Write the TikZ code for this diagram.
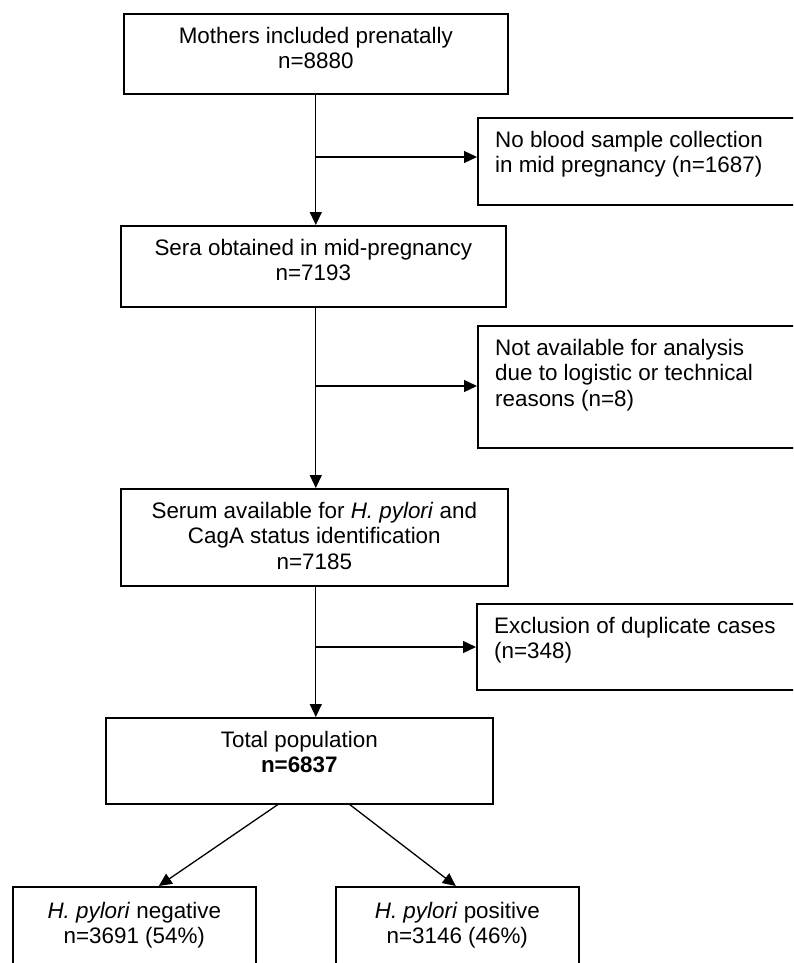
\documentclass[tikz,border=0pt]{standalone}
\usepackage{fontspec}
\setmainfont{Liberation Sans}
\usetikzlibrary{arrows.meta}
\newcommand{\firstl}{\rule{0pt}{17pt}}
\begin{document}
\begin{tikzpicture}[x=1pt,y=-1pt,
  box/.style={draw=black, line width=1.6pt, inner sep=0pt, anchor=north west},
  txt/.style={font=\fontsize{22.4}{25.5}\selectfont, inner sep=0pt, align=center, anchor=north},
  ltxt/.style={font=\fontsize{22.4}{25.5}\selectfont, inner sep=0pt, align=left, anchor=north west},
  arr/.style={line width=1.3pt, -{Triangle[length=13pt,width=12pt]}}]
\useasboundingbox (0,0) rectangle (793,963);
\clip (0,0) rectangle (793,963);
\fill[white] (0,0) rectangle (793,963);
% boxes
\node[box, minimum width=384pt, minimum height=80pt] (b1) at (123,13) {};
\node[box, minimum width=330pt, minimum height=87pt] (b2) at (477,117) {};
\node[box, minimum width=385pt, minimum height=81pt] (b3) at (120,225) {};
\node[box, minimum width=330pt, minimum height=122pt] (b4) at (477,325) {};
\node[box, minimum width=387pt, minimum height=97pt] (b5) at (120,488) {};
\node[box, minimum width=330pt, minimum height=86pt] (b6) at (476,603) {};
\node[box, minimum width=387pt, minimum height=86pt] (b7) at (105,717) {};
\node[box, minimum width=243pt, minimum height=95pt] (b8) at (12,886) {};
\node[box, minimum width=243pt, minimum height=95pt] (b9) at (335,886) {};
% texts
\node[txt] (t1) at ([yshift=-13pt]b1.north) {\firstl Mothers included prenatally\\n=8880};
\node[ltxt] (t2) at ([xshift=18pt,yshift=-13pt]b2.north west) {\firstl No blood sample collection\\in mid pregnancy (n=1687)};
\node[txt] (t3) at ([yshift=-13pt]b3.north) {\firstl Sera obtained in mid-pregnancy\\n=7193};
\node[ltxt] (t4) at ([xshift=18pt,yshift=-13pt]b4.north west) {\firstl Not available for analysis\\due to logistic or technical\\reasons (n=8)};
\node[txt] (t5) at ([yshift=-13pt]b5.north) {\firstl Serum available for \textit{H. pylori} and\\CagA status identification\\n=7185};
\node[ltxt] (t6) at ([xshift=18pt,yshift=-13pt]b6.north west) {\firstl Exclusion of duplicate cases\\(n=348)};
\node[txt] (t7) at ([yshift=-13pt]b7.north) {\firstl Total population\\\textbf{n=6837}};
\node[txt] (t8) at ([yshift=-15pt]b8.north) {\firstl \textit{H. pylori} negative\\n=3691 (54\%)};
\node[txt] (t9) at ([yshift=-15pt]b9.north) {\firstl \textit{H. pylori} positive\\n=3146 (46\%)};
% connectors
\coordinate (j1) at (315,157);
\coordinate (j2) at (315,386);
\coordinate (j3) at (315,647);
\draw[arr] (b1.south) -- (b1.south |- b3.north);
\draw[arr] (j1) -- (j1 -| b2.west);
\draw[arr] (b1.south |- b3.south) -- (b1.south |- b5.north);
\draw[arr] (j2) -- (j2 -| b4.west);
\draw[arr] (b1.south |- b5.south) -- (b1.south |- b7.north);
\draw[arr] (j3) -- (j3 -| b6.west);
\draw[arr] ([xshift=-21.5pt]b7.south) -- ([xshift=24.5pt]b8.north);
\draw[arr] ([xshift=50.5pt]b7.south) -- ([xshift=-1.5pt]b9.north);
\end{tikzpicture}
\end{document}
